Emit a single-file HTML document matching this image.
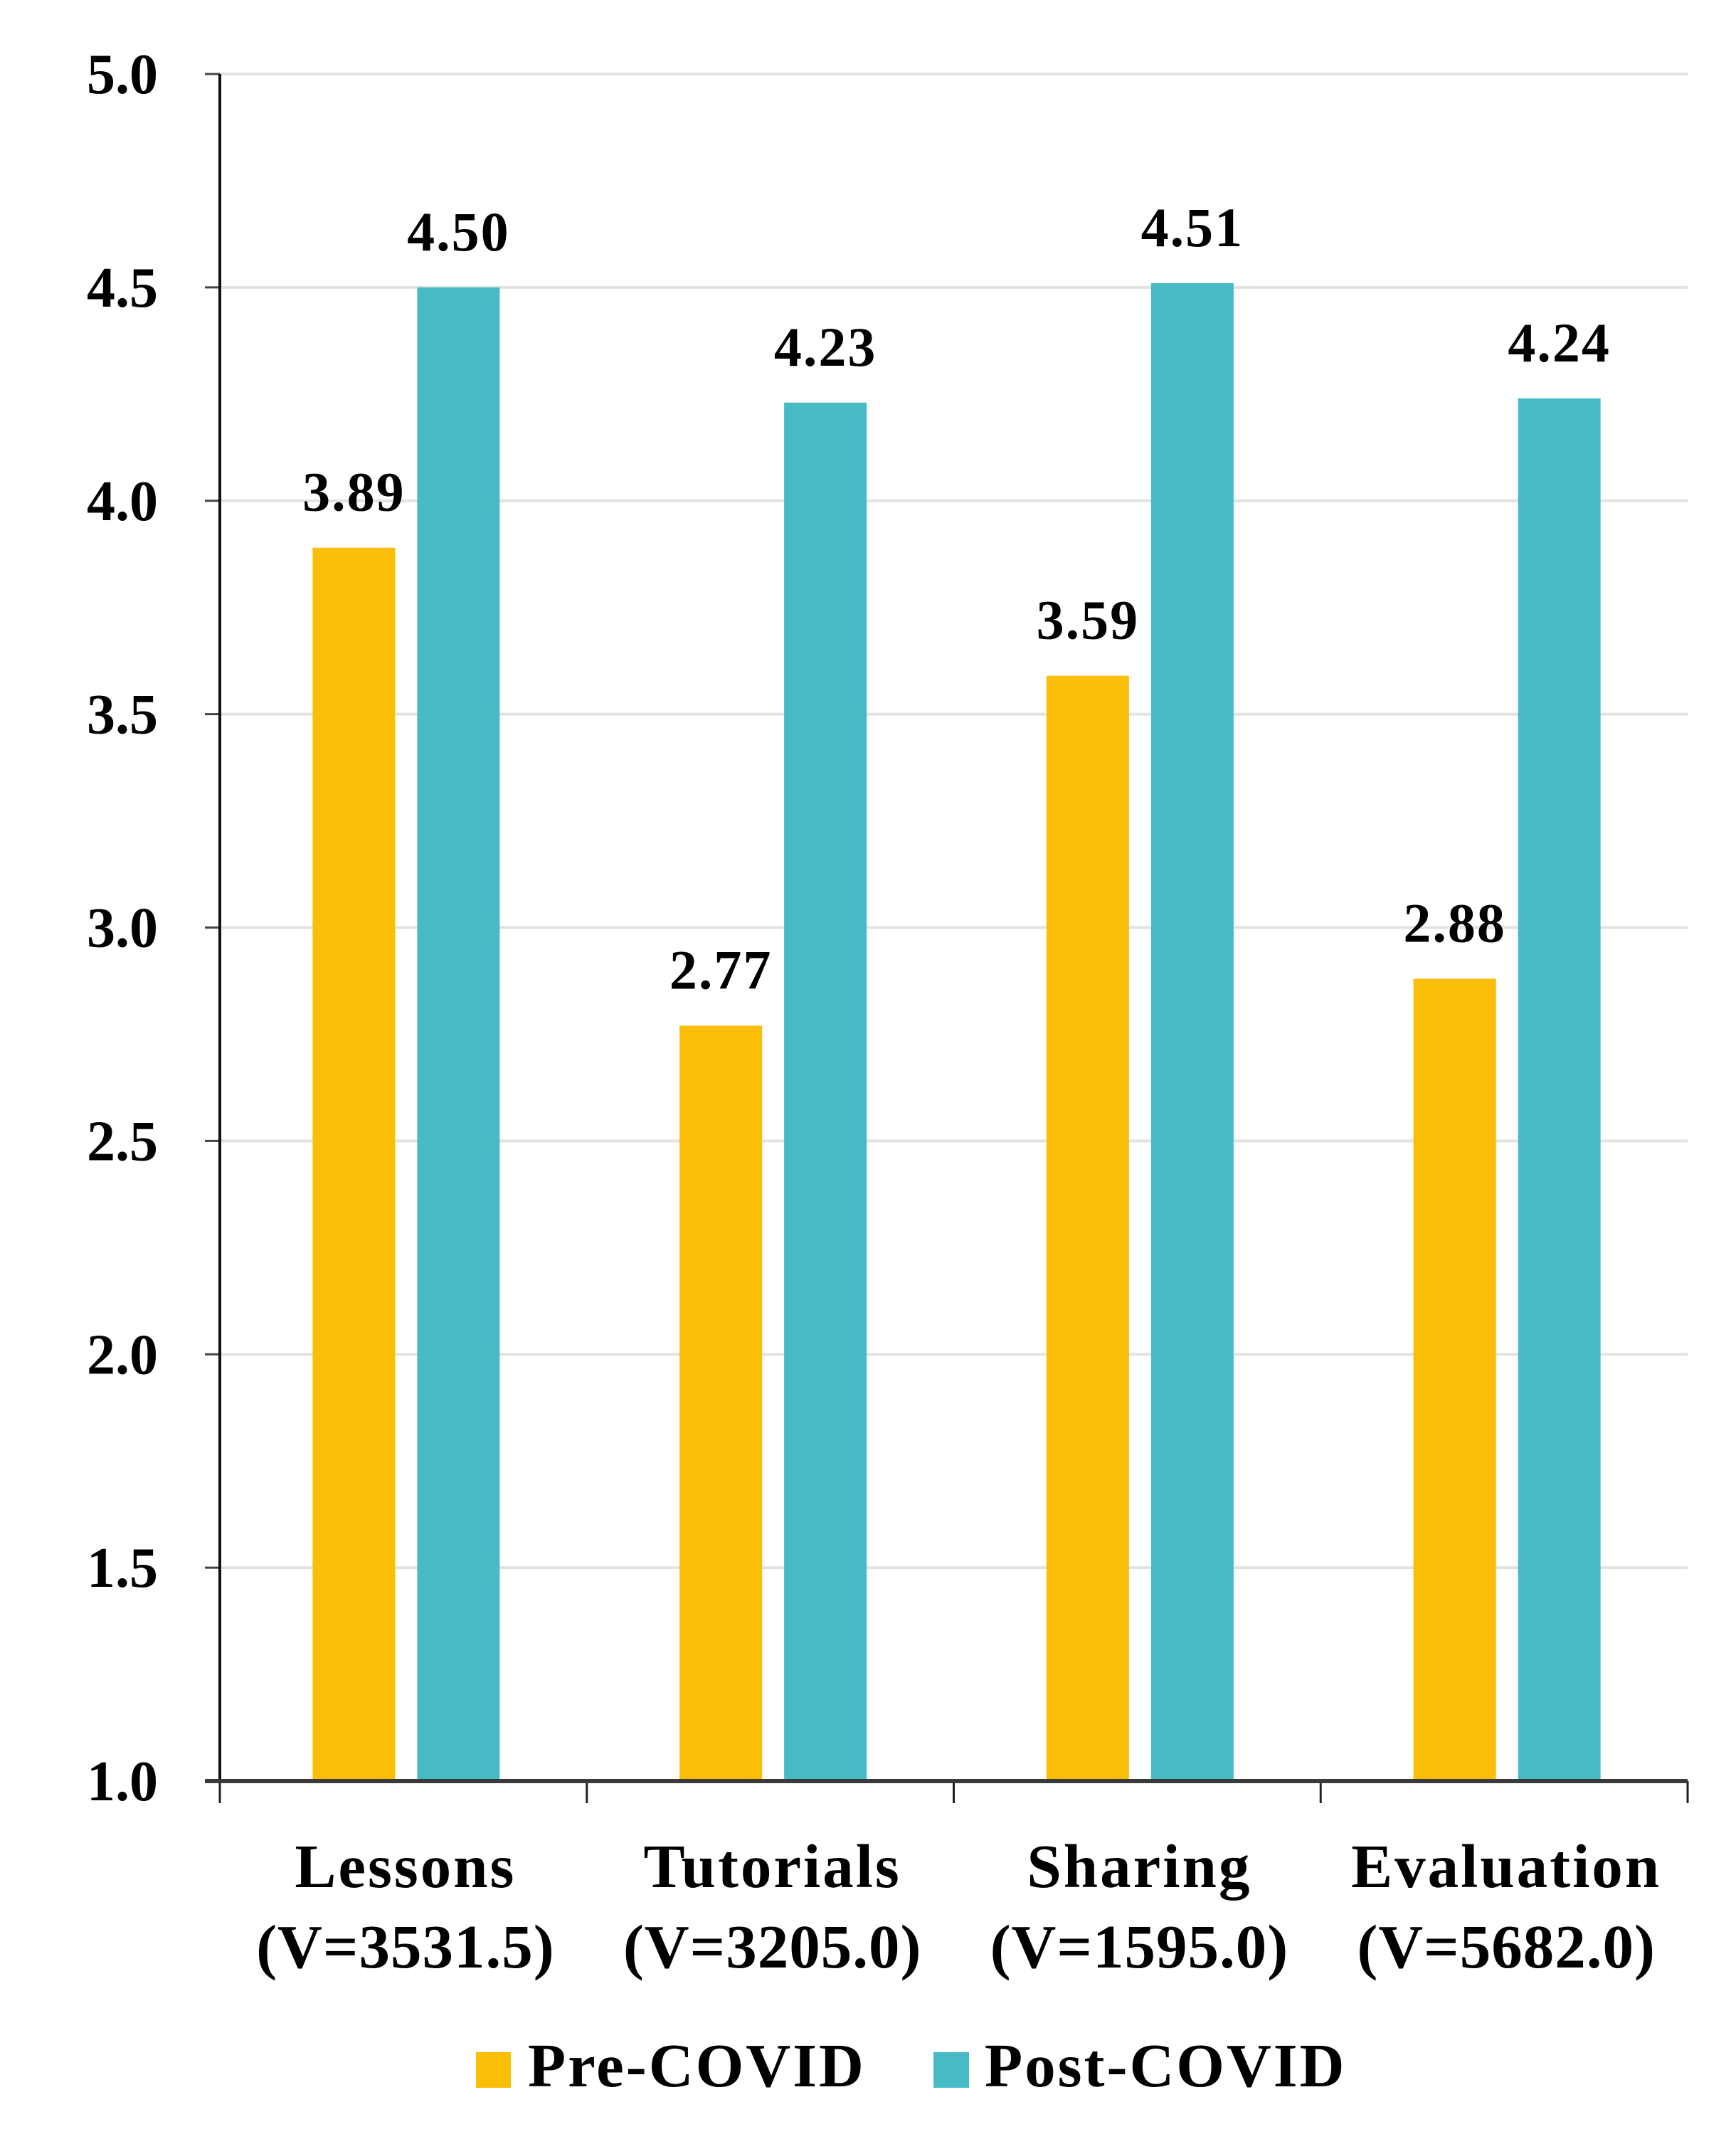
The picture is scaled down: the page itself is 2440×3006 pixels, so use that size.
<!DOCTYPE html>
<html><head><meta charset="utf-8"><style>
html,body{margin:0;padding:0;background:#fff;}
svg text{font-family:"Liberation Serif",serif;font-weight:bold;fill:#000;}
</style></head><body>
<svg id="chart" width="2440" height="3001" viewBox="0 0 2440 3001" xmlns="http://www.w3.org/2000/svg">
<g id="grid"></g><g id="bars"></g><g id="axes"></g><g id="labels"></g>
<g id="legend">
  <rect x="669" y="2884" width="49" height="50" fill="#F9BE05"/>
  <text x="742" y="2932" font-size="87" letter-spacing="3">Pre-COVID</text>
  <rect x="1312" y="2884" width="50" height="50" fill="#47BBC5"/>
  <text x="1384" y="2932" font-size="87" letter-spacing="3">Post-COVID</text>
</g>
</svg>
<script>
const categories = ["Lessons","Tutorials","Sharing","Evaluation"];
const subLabels = ["(V=3531.5)","(V=3205.0)","(V=1595.0)","(V=5682.0)"];
const preValues = [3.89,2.77,3.59,2.88];
const postValues = [4.50,4.23,4.51,4.24];
const yTicks = [1.0,1.5,2.0,2.5,3.0,3.5,4.0,4.5,5.0];

const NS="http://www.w3.org/2000/svg";
const X0=309, X1=2372, Y0=2503, Ytop=104;
function y(v){return Y0-(v-1)/(5-1)*(Y0-Ytop);}
const catW=(X1-X0)/categories.length;
function xc(i){return X0+catW*(i+0.5);}
function mk(tag,attrs,parent){const e=document.createElementNS(NS,tag);for(const k in attrs)e.setAttribute(k,attrs[k]);document.getElementById(parent).appendChild(e);return e;}

yTicks.forEach((t,i)=>{
  if(t>1){const g=mk('line',{x1:X0,x2:X1,y1:y(t),y2:y(t),stroke:'#e2e2e2','stroke-width':4},'grid');
  
  }
  const tk=mk('line',{x1:288,x2:X0,y1:y(t),y2:y(t),stroke:'#444','stroke-width':3},'axes');
  
  
  const tx=mk('text',{x:222,y:y(t)+27,'text-anchor':'end','font-size':80},'labels');
  tx.textContent=t.toFixed(1);
  
  
});

categories.forEach((c,i)=>{
  const cx=xc(i);
  const pb=mk('rect',{x:cx-127.5,y:y(preValues[i]),width:116,height:Y0-y(preValues[i]),fill:'#F9BE05'},'bars');
  
  
  const qb=mk('rect',{x:cx+19.5,y:y(postValues[i]),width:116,height:Y0-y(postValues[i]),fill:'#47BBC5'},'bars');
  
  
  const pl=mk('text',{x:cx-69.5,y:y(preValues[i])-52,'text-anchor':'middle','font-size':78,'letter-spacing':2},'labels');
  pl.textContent=preValues[i].toFixed(2);
  
  
  const ql=mk('text',{x:cx+77.5,y:y(postValues[i])-52,'text-anchor':'middle','font-size':78,'letter-spacing':2},'labels');
  ql.textContent=postValues[i].toFixed(2);
  
  
  const cl=mk('text',{x:cx+3,y:2652,'text-anchor':'middle','font-size':87,'letter-spacing':3},'labels');
  cl.textContent=c;
  
  
  const sl=mk('text',{x:cx+3,y:2765,'text-anchor':'middle','font-size':87,'letter-spacing':1},'labels');
  sl.textContent=subLabels[i];
  
  
});
for(let i=0;i<=categories.length;i++){
  const x=X0+catW*i;
  const t=mk('line',{x1:x,x2:x,y1:Y0,y2:2534,stroke:'#222','stroke-width':3},'axes');
  
  
}
const ya=mk('line',{x1:X0,x2:X0,y1:Ytop,y2:Y0,stroke:'#111','stroke-width':4},'axes');


const xa=mk('line',{x1:288,x2:X1,y1:Y0,y2:Y0,stroke:'#3a3a3a','stroke-width':6},'axes');


</script>
</body></html>
